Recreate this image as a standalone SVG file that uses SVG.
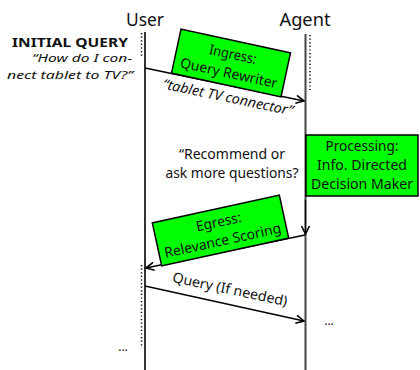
<svg xmlns="http://www.w3.org/2000/svg" width="420" height="370" viewBox="0 0 420 370">
<style>
text{font-family:"Noto Sans","Open Sans","Liberation Sans",sans-serif;fill:#111}
.hd{font-size:18px}
.t{font-size:14px;text-anchor:middle}
.i{font-style:italic}
.box{fill:#00ff00;stroke:#000;stroke-width:1.5}
.ln{stroke:#000;stroke-width:1.3;fill:none}
.dot{stroke:#000;stroke-width:1.5;stroke-dasharray:1.2 2.4;fill:none}
</style>
<defs>
<marker id="ah" viewBox="0 0 10 10" refX="9" refY="5" markerWidth="10" markerHeight="10" markerUnits="userSpaceOnUse" orient="auto">
<path d="M1,1 L9,5 L1,9" fill="none" stroke="#000" stroke-width="1.6"/>
</marker>
</defs>
<g id="user">
<text class="hd" x="145" y="26" text-anchor="middle" textLength="38" lengthAdjust="spacingAndGlyphs">User</text>
<line x1="145" y1="32" x2="145" y2="370" stroke="#000" stroke-width="1.6"/>
<line class="dot" x1="141.5" y1="33" x2="141.5" y2="58"/>
<line class="dot" x1="141.5" y1="265" x2="141.5" y2="348"/>
</g>
<g id="agent">
<text class="hd" x="305" y="26" text-anchor="middle" textLength="51" lengthAdjust="spacingAndGlyphs">Agent</text>
<line x1="305.5" y1="34" x2="305.5" y2="370" stroke="#444" stroke-width="2"/>
<line class="dot" x1="310" y1="35" x2="310" y2="90"/>
</g>
<g id="initial-query">
<text x="128" y="47" text-anchor="end" font-size="12" font-weight="bold" textLength="116" lengthAdjust="spacingAndGlyphs">INITIAL QUERY</text>
<text x="132" y="62" text-anchor="end" font-size="11.5" class="i" textLength="100" lengthAdjust="spacingAndGlyphs">“How do I con-</text>
<text x="133" y="79" text-anchor="end" font-size="11.5" class="i" textLength="126" lengthAdjust="spacingAndGlyphs">nect tablet to TV?”</text>
</g>
<g id="connectors">
<line class="ln" x1="145" y1="68" x2="304" y2="101" marker-end="url(#ah)"/>
<line class="ln" x1="305.5" y1="200" x2="305.5" y2="234" marker-end="url(#ah)"/>
<line class="ln" x1="305" y1="235" x2="146" y2="268" marker-end="url(#ah)"/>
<line class="ln" x1="145" y1="286" x2="304" y2="321" marker-end="url(#ah)"/>
<text class="t i" transform="translate(227,102) rotate(11.8)" textLength="133" lengthAdjust="spacingAndGlyphs">“tablet TV connector”</text>
<text class="t" transform="translate(229,294) rotate(12)" textLength="117" lengthAdjust="spacingAndGlyphs">Query (If needed)</text>
</g>
<g id="ingress">
<g transform="translate(231,63) rotate(12.2)">
<rect class="box" x="-56" y="-22.5" width="112" height="45"/>
<text class="t" x="0" y="-4" textLength="48" lengthAdjust="spacingAndGlyphs">Ingress:</text>
<text class="t" x="0" y="15" textLength="99" lengthAdjust="spacingAndGlyphs">Query Rewriter</text>
</g>
</g>
<g id="processing">
<rect class="box" x="306" y="135" width="112" height="61"/>
<text class="t" x="362" y="151" textLength="73" lengthAdjust="spacingAndGlyphs">Processing:</text>
<text class="t" x="362" y="170" textLength="90" lengthAdjust="spacingAndGlyphs">Info. Directed</text>
<text class="t" x="362" y="189" textLength="102" lengthAdjust="spacingAndGlyphs">Decision Maker</text>
</g>
<g id="question">
<text class="t" x="232" y="159" textLength="106" lengthAdjust="spacingAndGlyphs">“Recommend or</text>
<text class="t" x="232" y="178" textLength="133" lengthAdjust="spacingAndGlyphs">ask more questions?</text>
</g>
<g id="egress">
<g transform="translate(220.5,230.5) rotate(-12.3)">
<rect class="box" x="-65" y="-22" width="130" height="44"/>
<text class="t" x="0" y="-4" textLength="46" lengthAdjust="spacingAndGlyphs">Egress:</text>
<text class="t" x="0" y="15" textLength="119" lengthAdjust="spacingAndGlyphs">Relevance Scoring</text>
</g>
</g>
<g id="ellipses">
<text x="329" y="325" font-size="12" text-anchor="middle">...</text>
<text x="123" y="351" font-size="12" text-anchor="middle">...</text>
</g>
</svg>
